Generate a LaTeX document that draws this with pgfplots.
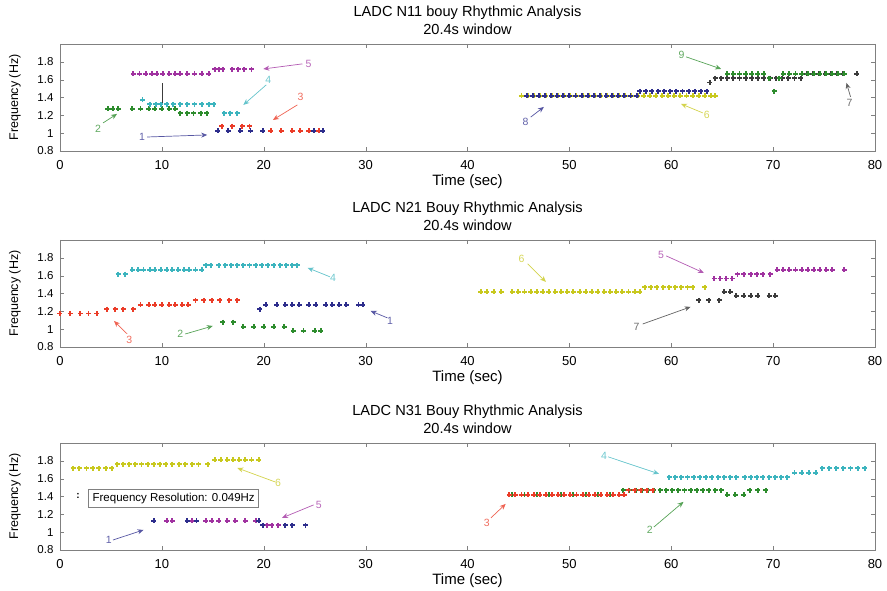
\documentclass[border=0pt]{standalone}
\usepackage{pgfplots}
\pgfplotsset{compat=1.18}
\usepackage{fontspec}
\setmainfont{Liberation Sans}
\usetikzlibrary{arrows.meta}
\definecolor{blueC}{RGB}{45,45,140}
\definecolor{redC}{RGB}{235,60,40}
\definecolor{greenC}{RGB}{45,140,45}
\definecolor{cyanC}{RGB}{60,180,190}
\definecolor{purpC}{RGB}{160,50,160}
\definecolor{yelC}{RGB}{200,200,30}
\definecolor{grayC}{RGB}{60,60,60}
\tikzset{
  arr/.style={-{Stealth[length=6pt,width=5pt]}, line width=0.7pt, color=#1!80},
  lab/.style={color=#1!75, font=\fontsize{10.5}{12}\selectfont},
}
\pgfplotsset{
  panel/.style={
    scale only axis, width=815pt, height=107pt,
    xmin=0, xmax=80, ymin=0.8, ymax=2,
    xtick={0,10,...,80}, ytick={0.8,1,1.2,1.4,1.6,1.8},
    tick align=inside, major tick length=4pt,
    axis line style={gray}, tick style={gray},
    clip=false,
    /pgf/number format/assume math mode=true,
    xticklabel style={font=\fontsize{13}{15}\selectfont, yshift=-6pt},
    yticklabel style={font=\fontsize{11.5}{13}\selectfont, xshift=-3pt},
    xlabel={Time (sec)},
    xlabel style={at={(axis description cs:0.5,-0.29)}, anchor=center, font=\fontsize{15}{17}\selectfont},
    ylabel={Frequency (Hz)},
    ylabel style={at={(axis description cs:-0.0552,0.5)}, anchor=center, font=\fontsize{12.5}{14}\selectfont},
    title style={at={(axis description cs:0.5,1)}, anchor=south, yshift=3pt, inner sep=0pt, align=center, font=\fontsize{14.6}{18}\selectfont},
  },
  pm/.style={only marks, mark=+, mark size=2.5pt, line width=1.9pt, color=#1},
}
\begin{document}
\begin{tikzpicture}
\useasboundingbox (0,0) rectangle (887pt,591pt);
% ---------------- Panel 1
\begin{axis}[panel, at={(60pt,440pt)}, anchor=south west,
  title={LADC N11 bouy Rhythmic Analysis\\20.4s window}]
\draw[grayC, line width=1.3pt] (axis cs:10.03,1.339) -- (axis cs:10.03,1.564);
\addplot[pm=yelC] coordinates {(45.3,1.421)(45.9,1.421)(46.5,1.421)(47.1,1.421)(47.7,1.421)(48.3,1.421)(48.9,1.421)(49.5,1.421)(50.1,1.421)(50.7,1.421)(51.3,1.421)(51.9,1.421)(52.5,1.421)(53.1,1.421)(53.7,1.421)(54.3,1.421)(54.9,1.421)(55.5,1.421)(56.1,1.421)(56.7,1.421)(57.3,1.421)(57.9,1.421)(58.5,1.421)(59.1,1.421)(59.7,1.421)(60.3,1.421)(60.9,1.421)(61.5,1.421)(62.1,1.421)(62.7,1.421)(63.3,1.421)(63.9,1.421)(64.3,1.421)};
\addplot[pm=blueC] coordinates {(45.8,1.421)(46.4,1.421)(47.0,1.421)(47.6,1.421)(48.2,1.421)(48.8,1.421)(49.4,1.421)(50.0,1.421)(50.6,1.421)(51.2,1.421)(51.8,1.421)(52.4,1.421)(53.0,1.421)(53.6,1.421)(54.2,1.421)(54.8,1.421)(55.4,1.421)(56.0,1.421)(56.6,1.421)
 (56.9,1.47)(57.5,1.47)(58.1,1.47)(58.7,1.47)(59.3,1.47)(59.9,1.47)(60.5,1.47)(61.1,1.47)(61.7,1.47)(62.3,1.47)(62.9,1.47)(63.5,1.47)};
\addplot[pm=grayC] coordinates {(63.8,1.568)(64.3,1.617)(64.9,1.617)(65.5,1.617)(66.1,1.617)(66.7,1.617)(67.3,1.617)(67.9,1.617)(68.5,1.617)(69.1,1.617)(69.7,1.617)(70.3,1.617)(70.9,1.617)(71.5,1.617)(72.1,1.617)(72.7,1.617)
 (73.3,1.666)(73.9,1.666)(74.5,1.666)(75.1,1.666)(75.7,1.666)(76.3,1.666)(76.9,1.666)(78.2,1.666)};
\addplot[pm=greenC] coordinates {(65.5,1.666)(66.1,1.666)(66.7,1.666)(67.3,1.666)(67.9,1.666)(68.5,1.666)(69.1,1.666)(69.6,1.617)(70.6,1.617)(70.1,1.47)
 (71.0,1.666)(71.6,1.666)(72.2,1.666)(72.8,1.666)(73.4,1.666)(74.0,1.666)(74.6,1.666)(75.2,1.666)(75.8,1.666)(76.4,1.666)(77.0,1.666)};
\addplot[pm=greenC] coordinates {(4.7,1.274)(5.2,1.274)(5.7,1.274)(7.1,1.274)(7.9,1.274)(8.7,1.274)(9.3,1.274)(10.0,1.274)(10.7,1.274)(11.3,1.274)
 (11.8,1.225)(12.5,1.225)(13.1,1.225)(13.8,1.225)(14.4,1.225)};
\addplot[pm=cyanC] coordinates {(8.1,1.372)(8.8,1.323)(9.4,1.323)(9.9,1.323)(10.5,1.323)(11.1,1.323)(11.8,1.323)(12.5,1.323)(13.2,1.323)(13.9,1.323)(14.6,1.323)(15.1,1.323)
 (16.1,1.225)(16.7,1.225)(17.4,1.225)};
\addplot[pm=purpC] coordinates {(7.2,1.666)(7.8,1.666)(8.4,1.666)(9.0,1.666)(9.5,1.666)(10.1,1.666)(10.7,1.666)(11.3,1.666)(11.8,1.666)(12.5,1.666)(13.2,1.666)(13.9,1.666)(14.6,1.666)
 (15.2,1.715)(15.6,1.715)(16.0,1.715)(16.9,1.715)(17.5,1.715)(18.1,1.715)(18.8,1.715)};
\addplot[pm=redC] coordinates {(15.9,1.078)(16.9,1.078)(17.9,1.078)(18.6,1.078)(20.7,1.029)(21.7,1.029)(22.8,1.029)(23.6,1.029)(24.4,1.029)(25.4,1.029)};
\addplot[pm=blueC] coordinates {(15.5,1.029)(16.5,1.029)(17.7,1.029)(18.7,1.029)(19.9,1.029)(24.9,1.029)(25.8,1.029)};
\draw[arr=blueC] (axis cs:8.55,0.957) -- (axis cs:14.45,0.98);
\node[lab=blueC] at (axis cs:8.06,0.957) {1};
\draw[arr=greenC] (axis cs:4.23,1.115) -- (axis cs:5.6,1.216);
\node[lab=greenC] at (axis cs:3.74,1.047) {2};
\draw[arr=redC] (axis cs:23.3,1.317) -- (axis cs:20.9,1.148);
\node[lab=redC] at (axis cs:23.6,1.407) {3};
\draw[arr=cyanC] (axis cs:20.25,1.542) -- (axis cs:18.0,1.317);
\node[lab=cyanC] at (axis cs:20.45,1.598) {4};
\draw[arr=purpC] (axis cs:23.8,1.777) -- (axis cs:19.96,1.72);
\node[lab=purpC] at (axis cs:24.4,1.777) {5};
\draw[arr=blueC] (axis cs:46.2,1.18) -- (axis cs:47.5,1.294);
\node[lab=blueC] at (axis cs:45.7,1.126) {8};
\draw[arr=greenC] (axis cs:61.45,1.856) -- (axis cs:64.9,1.72);
\node[lab=greenC] at (axis cs:61.0,1.879) {9};
\draw[arr=yelC] (axis cs:63.1,1.227) -- (axis cs:60.96,1.328);
\node[lab=yelC] at (axis cs:63.5,1.205) {6};
\draw[arr=grayC] (axis cs:77.6,1.407) -- (axis cs:77.2,1.564);
\node[lab=grayC] at (axis cs:77.5,1.34) {7};
\end{axis}
% ---------------- Panel 2
\begin{axis}[panel, at={(60pt,244pt)}, anchor=south west,
  title={LADC N21 Bouy Rhythmic Analysis\\20.4s window}]
\addplot[pm=redC] coordinates {(0,1.176)(1.0,1.176)(2.0,1.176)(2.8,1.176)(3.6,1.176)
 (4.6,1.225)(5.4,1.225)(6.2,1.225)(7.2,1.225)
 (7.9,1.274)(8.7,1.274)(9.3,1.274)(10.0,1.274)(10.7,1.274)(11.3,1.274)(12.0,1.274)(12.6,1.274)
 (13.3,1.323)(14.1,1.323)(14.9,1.323)(15.7,1.323)(16.6,1.323)(17.4,1.323)};
\addplot[pm=cyanC] coordinates {(5.7,1.617)(6.4,1.617)
 (7.1,1.666)(7.7,1.666)(8.2,1.666)(8.8,1.666)(9.3,1.666)(9.9,1.666)(10.5,1.666)(11.0,1.666)(11.6,1.666)(12.2,1.666)(12.7,1.666)(13.3,1.666)(13.9,1.666)
 (14.3,1.715)(14.8,1.715)(15.6,1.715)(16.2,1.715)(16.8,1.715)(17.4,1.715)(18.0,1.715)(18.6,1.715)(19.2,1.715)(19.8,1.715)(20.4,1.715)(21.0,1.715)(21.6,1.715)(22.2,1.715)(22.8,1.715)(23.3,1.715)};
\addplot[pm=blueC] coordinates {(19.6,1.225)(20.2,1.274)(21.3,1.274)(22.1,1.274)(22.8,1.274)(23.5,1.274)(24.4,1.274)(25.1,1.274)(26.1,1.274)(26.7,1.274)(27.4,1.274)(28.1,1.274)(29.3,1.274)(29.7,1.274)};
\addplot[pm=greenC] coordinates {(16.0,1.078)(17.0,1.078)(18.0,1.029)(19.0,1.029)(20.0,1.029)(21.0,1.029)(22.0,1.029)(22.9,0.98)(23.9,0.98)(25.0,0.98)(25.6,0.98)};
\addplot[pm=yelC] coordinates {(41.3,1.421)(41.9,1.421)(42.6,1.421)(43.3,1.421)(44.4,1.421)(45.0,1.421)(45.6,1.421)(46.2,1.421)(46.8,1.421)(47.4,1.421)(48.0,1.421)(48.6,1.421)(49.2,1.421)(49.8,1.421)(50.4,1.421)(51.0,1.421)(51.6,1.421)(52.2,1.421)(52.8,1.421)(53.4,1.421)(54.0,1.421)(54.6,1.421)(55.2,1.421)(55.8,1.421)(56.4,1.421)(56.9,1.421)
 (57.4,1.47)(58.0,1.47)(58.6,1.47)(59.2,1.47)(59.8,1.47)(60.4,1.47)(61.0,1.47)(61.6,1.47)(62.1,1.47)(63.3,1.47)};
\addplot[pm=purpC] coordinates {(64.2,1.568)(64.8,1.568)(65.4,1.568)(66.0,1.568)
 (66.5,1.617)(67.1,1.617)(67.8,1.617)(68.4,1.617)(69.0,1.617)(69.7,1.617)
 (70.4,1.666)(71.0,1.666)(71.6,1.666)(72.2,1.666)(72.8,1.666)(73.4,1.666)(74.0,1.666)(74.6,1.666)(75.2,1.666)(75.8,1.666)(77.0,1.666)};
\addplot[pm=grayC] coordinates {(62.7,1.323)(63.7,1.323)(64.7,1.323)(65.2,1.421)(65.8,1.421)(66.4,1.372)(67.1,1.372)(67.8,1.372)(68.5,1.372)(69.6,1.372)(70.2,1.372)};
\draw[arr=cyanC] (axis cs:26.5,1.587) -- (axis cs:24.3,1.688);
\node[lab=cyanC] at (axis cs:26.8,1.575) {4};
\draw[arr=redC] (axis cs:6.6,0.946) -- (axis cs:5.3,1.092);
\node[lab=redC] at (axis cs:6.8,0.879) {3};
\draw[arr=greenC] (axis cs:12.3,0.946) -- (axis cs:15.0,1.036);
\node[lab=greenC] at (axis cs:11.8,0.946) {2};
\draw[arr=blueC] (axis cs:32.15,1.126) -- (axis cs:30.5,1.204);
\node[lab=blueC] at (axis cs:32.4,1.092) {1};
\draw[arr=yelC] (axis cs:45.9,1.733) -- (axis cs:47.7,1.53);
\node[lab=yelC] at (axis cs:45.3,1.789) {6};
\draw[arr=purpC] (axis cs:59.5,1.822) -- (axis cs:63.2,1.631);
\node[lab=purpC] at (axis cs:59.0,1.834) {5};
\draw[arr=grayC] (axis cs:57.2,1.058) -- (axis cs:61.9,1.25);
\node[lab=grayC] at (axis cs:56.6,1.025) {7};
\end{axis}
% ---------------- Panel 3
\begin{axis}[panel, at={(60pt,41pt)}, anchor=south west,
  title={LADC N31 Bouy Rhythmic Analysis\\20.4s window}]
\addplot[pm=yelC] coordinates {(1.3,1.715)(1.9,1.715)(2.6,1.715)(3.2,1.715)(3.8,1.715)(4.5,1.715)(5.1,1.715)
 (5.6,1.764)(6.2,1.764)(6.8,1.764)(7.4,1.764)(8.0,1.764)(8.6,1.764)(9.2,1.764)(9.8,1.764)(10.4,1.764)(11.0,1.764)(11.7,1.764)(12.3,1.764)(13.0,1.764)(13.6,1.764)(14.5,1.764)
 (15.2,1.813)(15.8,1.813)(16.4,1.813)(17.0,1.813)(17.6,1.813)(18.2,1.813)(18.8,1.813)(19.5,1.813)};
\addplot[pm=purpC] coordinates {(10.5,1.127)(11.0,1.127)(13.0,1.127)(14.3,1.127)(14.9,1.127)(15.6,1.127)(16.4,1.127)(17.2,1.127)(18.2,1.127)(19.2,1.127)(20.3,1.078)(20.8,1.078)(21.4,1.078)};
\addplot[pm=blueC] coordinates {(9.2,1.127)(12.5,1.127)(13.4,1.127)(19.5,1.127)(19.9,1.078)(22.1,1.078)(22.8,1.078)(24.1,1.078)};
\addplot[pm=greenC] coordinates {(44.4,1.421)(45.6,1.421)(46.8,1.421)(48.0,1.421)(49.2,1.421)(50.4,1.421)(51.6,1.421)(52.8,1.421)(54.0,1.421)
 (55.3,1.47)(55.9,1.47)(56.5,1.47)(57.1,1.47)(57.7,1.47)(58.3,1.47)(58.9,1.47)(59.5,1.47)(60.1,1.47)(60.7,1.47)(61.3,1.47)(61.9,1.47)(62.5,1.47)(63.1,1.47)(63.7,1.47)(64.3,1.47)(64.9,1.47)
 (65.5,1.421)(66.3,1.421)(67.1,1.421)(67.7,1.47)(68.5,1.47)(69.3,1.47)};
\addplot[pm=redC] coordinates {(44.1,1.421)(44.7,1.421)(45.3,1.421)(45.9,1.421)(46.5,1.421)(47.1,1.421)(47.7,1.421)(48.3,1.421)(48.9,1.421)(49.5,1.421)(50.1,1.421)(50.7,1.421)(51.3,1.421)(51.9,1.421)(52.5,1.421)(53.1,1.421)(53.7,1.421)(54.3,1.421)(54.9,1.421)(55.4,1.421)
 (55.8,1.47)(56.4,1.47)(57.0,1.47)(57.6,1.47)(58.2,1.47)};
\addplot[pm=cyanC] coordinates {(59.8,1.617)(60.4,1.617)(61.0,1.617)(61.6,1.617)(62.2,1.617)(62.8,1.617)(63.4,1.617)(64.0,1.617)(64.6,1.617)(65.2,1.617)(65.8,1.617)(66.4,1.617)(67.2,1.617)(67.8,1.617)(68.4,1.617)(69.0,1.617)(69.6,1.617)(70.2,1.617)(70.8,1.617)(71.4,1.617)
 (72.1,1.666)(72.8,1.666)(73.5,1.666)(74.2,1.666)
 (74.8,1.715)(75.5,1.715)(76.2,1.715)(76.9,1.715)(77.6,1.715)(78.3,1.715)(79.0,1.715)};
\node[draw=gray, fill=white, line width=0.9pt, inner xsep=4pt, inner ysep=3.5pt, font=\fontsize{11.5}{13}\selectfont] at (axis cs:11.16,1.379) {Frequency Resolution: 0.049Hz};
\node[font=\bfseries\fontsize{10}{11}\selectfont] at (axis cs:1.77,1.407) {:};
\draw[arr=blueC] (axis cs:5.2,0.912) -- (axis cs:8.2,1.025);
\node[lab=blueC] at (axis cs:4.8,0.912) {1};
\draw[arr=purpC] (axis cs:24.9,1.306) -- (axis cs:21.8,1.16);
\node[lab=purpC] at (axis cs:25.4,1.306) {5};
\draw[arr=yelC] (axis cs:21.1,1.564) -- (axis cs:17.4,1.72);
\node[lab=yelC] at (axis cs:21.4,1.553) {6};
\draw[arr=redC] (axis cs:42.3,1.16) -- (axis cs:43.75,1.317);
\node[lab=redC] at (axis cs:41.9,1.103) {3};
\draw[arr=cyanC] (axis cs:53.8,1.845) -- (axis cs:58.8,1.654);
\node[lab=cyanC] at (axis cs:53.4,1.856) {4};
\draw[arr=greenC] (axis cs:58.3,1.058) -- (axis cs:61.2,1.34);
\node[lab=greenC] at (axis cs:57.9,1.025) {2};
\end{axis}
\end{tikzpicture}
\end{document}
